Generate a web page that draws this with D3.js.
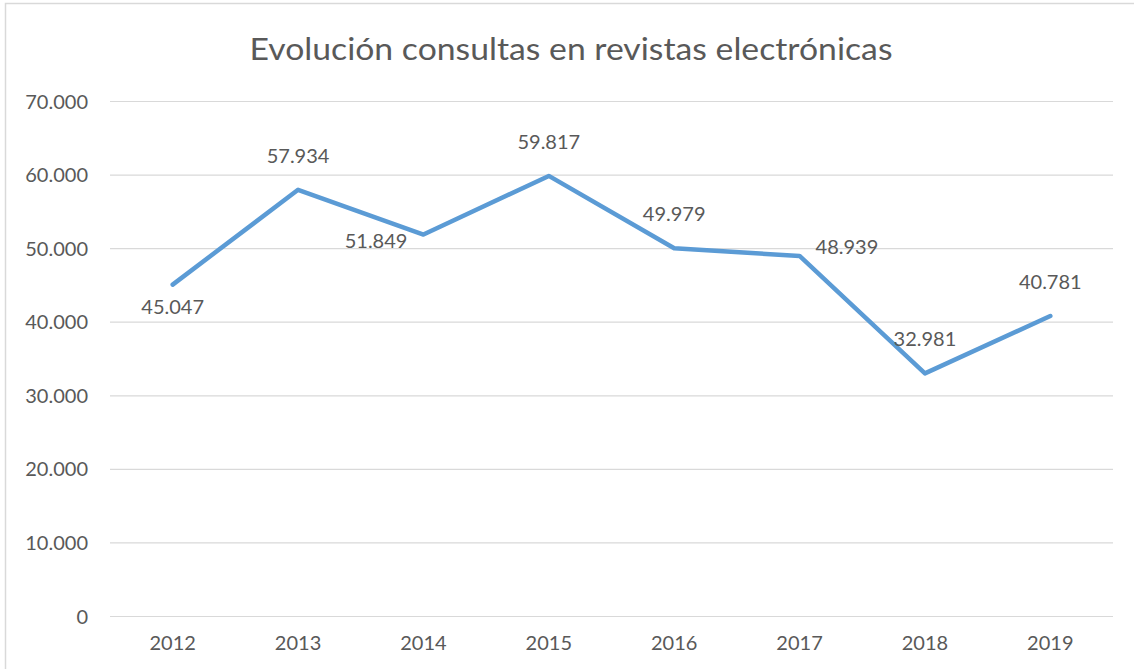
<!DOCTYPE html>
<html><head><meta charset="utf-8">
<script src="https://cdn.jsdelivr.net/npm/d3@7"></script>
<style>body{margin:0;background:#fff}svg{display:block}text{font-family:Lato,"Open Sans",sans-serif;fill:#595959}</style>
</head><body><svg id="c" width="1134" height="669"></svg>
<script>
const title = "Evolución consultas en revistas electrónicas";
const years = ["2012","2013","2014","2015","2016","2017","2018","2019"];
const consultas = [45047,57934,51849,59817,49979,48939,32981,40781];
const labelPos = ["below","above","left","above","above","right","above","above"];
const yTicks = [0,10000,20000,30000,40000,50000,60000,70000];

const svg = d3.select("#c");
const W = 1134, H = 669;
svg.append("rect").attr("x",5.5).attr("y",3.5).attr("width",W+10).attr("height",H+10)
  .attr("fill","#fff").attr("stroke","#d9d9d9").attr("stroke-width",1.5);

const x = d3.scaleBand().domain(years).range([110,1113]);
const y = d3.scaleLinear().domain([0,70000]).range([616,101]);
const fmt = d => d===0 ? "0" : d3.format(",")(d).replace(/,/g,".");

svg.append("text").attr("x",571).attr("y",60).attr("text-anchor","middle")
  .style("font-size","30px").attr("textLength",643).attr("lengthAdjust","spacingAndGlyphs").text(title);

const ga = svg.append("g").attr("transform","translate(110,0)")
  .call(d3.axisLeft(y).tickValues(yTicks).tickSize(-1003).tickPadding(22).tickFormat(fmt));
ga.select(".domain").remove();
ga.selectAll(".tick line").attr("stroke","#d9d9d9").attr("stroke-width",1.2);
ga.selectAll(".tick text").style("font-size","20px").attr("fill","#595959").attr("dy","0.35em");

const gx = svg.append("g").attr("transform","translate(0,616)")
  .call(d3.axisBottom(x).tickSize(0).tickPadding(20));
gx.select(".domain").remove();
gx.selectAll(".tick text").style("font-size","20px").attr("fill","#595959");

const cx = i => x(years[i]) + x.bandwidth()/2;
const line = d3.line().x((d,i)=>cx(i)).y(d=>y(d));
svg.append("path").datum(consultas).attr("d",line).attr("fill","none")
  .attr("stroke","#5b9bd5").attr("stroke-width",4.5).attr("stroke-linejoin","round").attr("stroke-linecap","round");

svg.append("g").selectAll("text").data(consultas).join("text")
  .style("font-size","20px")
  .attr("x",(d,i)=> labelPos[i]==="left" ? cx(i)-16 : labelPos[i]==="right" ? cx(i)+16 : cx(i))
  .attr("y",(d,i)=> y(d) + ({below:22,above:-34,left:6,right:-9})[labelPos[i]])
  .attr("dy","0.35em")
  .attr("text-anchor",(d,i)=> labelPos[i]==="left" ? "end" : labelPos[i]==="right" ? "start" : "middle")
  .text(d=>fmt(d));
</script></body></html>
